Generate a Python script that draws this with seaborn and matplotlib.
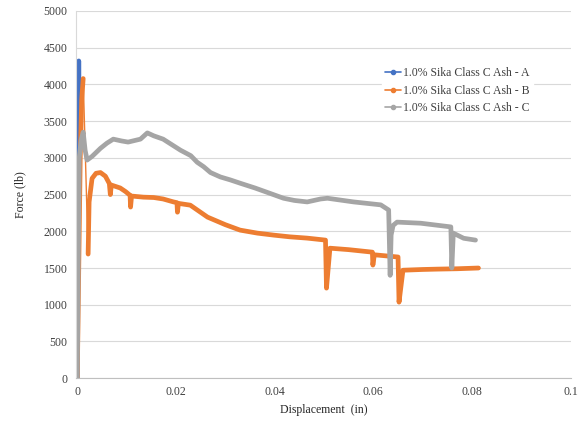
import matplotlib
matplotlib.use("Agg")
import matplotlib.pyplot as plt
from matplotlib.lines import Line2D
import numpy as np
import pandas as pd
import seaborn as sns

# Load-displacement readings for three specimens
disp_a = [0.0, 0.0001, 0.0002, 0.0003, 0.0004]
force_a = [0, 1600, 3300, 4320, 3400]

disp_b = [0.0, 0.0003, 0.0006, 0.0009, 0.0012,
          0.0022, 0.0024, 0.0030, 0.0038, 0.0047, 0.0057, 0.0065, 0.0067, 0.0069,
          0.0078, 0.0087, 0.0098, 0.0107, 0.0108, 0.0110, 0.0134, 0.0155, 0.0174,
          0.0195, 0.0202, 0.0203, 0.0205, 0.0229, 0.0264, 0.0300, 0.0330, 0.0365,
          0.0398, 0.0430, 0.0466, 0.0503, 0.0505, 0.0512, 0.0550, 0.0598, 0.0599,
          0.0602, 0.0650, 0.0652, 0.0660, 0.0700, 0.0730, 0.0770, 0.0813]
force_b = [0, 1500, 3000, 3800, 4080,
           1690, 2400, 2720, 2790, 2800, 2750, 2650, 2500, 2630,
           2610, 2590, 2540, 2490, 2330, 2480, 2465, 2460, 2440,
           2400, 2390, 2260, 2380, 2356, 2193, 2090, 2016, 1975,
           1948, 1925, 1907, 1880, 1226, 1770, 1750, 1716, 1540,
           1680, 1650, 1035, 1470, 1480, 1485, 1490, 1500]
# index where the sparse drop after the first peak ends
b_break = 5

disp_c = [0.0, 0.0002, 0.0004, 0.0008, 0.0012, 0.0016, 0.0020, 0.0030, 0.0047,
          0.0060, 0.0073, 0.0090, 0.0103, 0.0128, 0.0142, 0.0155, 0.0174, 0.0209,
          0.0230, 0.0243, 0.0256, 0.0270, 0.0290, 0.0310, 0.0330, 0.0360, 0.0385,
          0.0418, 0.0440, 0.0466, 0.0493, 0.0507, 0.0560, 0.0615, 0.0631, 0.0634,
          0.0636, 0.0640, 0.0648, 0.0696, 0.0757, 0.0759, 0.0762, 0.0783, 0.0807]
force_c = [0, 1500, 3000, 3250, 3350, 3100, 2970, 3020, 3130,
           3200, 3255, 3230, 3215, 3255, 3340, 3300, 3255, 3105,
           3030, 2940, 2880, 2800, 2740, 2700, 2655, 2590, 2530,
           2450, 2420, 2400, 2440, 2450, 2400, 2360, 2290, 1400,
           1950, 2080, 2125, 2110, 2060, 1500, 1975, 1905, 1880]

labels = ["1.0% Sika Class C Ash - A", "1.0% Sika Class C Ash - B",
          "1.0% Sika Class C Ash - C"]
colors = ["#4472C4", "#ED7D31", "#A5A5A5"]

x_ticks = [0, 0.02, 0.04, 0.06, 0.08, 0.1]
x_ticklabels = ["0", "0.02", "0.04", "0.06", "0.08", "0.1"]
y_ticks = list(range(0, 5001, 500))


def frame(disp, force, breaks=()):
    seg = np.zeros(len(disp), dtype=int)
    for b in breaks:
        seg[b:] += 1
    return pd.DataFrame({"disp": disp, "force": force, "seg": seg})


series = [
    frame(disp_a, force_a),
    frame(disp_b, force_b, breaks=(b_break,)),
    frame(disp_c, force_c),
]

sns.set_theme(style="whitegrid")
plt.rcParams["font.family"] = ["Liberation Serif", "DejaVu Serif"]

fig = plt.figure(figsize=(5.83, 4.23), dpi=100)
ax = fig.add_axes([0.130, 0.106, 0.849, 0.868])

for df, color in zip(series, colors):
    # connecting line through every reading
    sns.lineplot(data=df, x="disp", y="force", sort=False, estimator=None,
                 color=color, lw=1.0, ax=ax, legend=False)
    # dense marker band for continuous stretches
    sns.lineplot(data=df, x="disp", y="force", units="seg", sort=False,
                 estimator=None, color=color, lw=3.4, ax=ax, legend=False,
                 solid_joinstyle="round", solid_capstyle="round")

ax.set_xlim(-0.0003, 0.1)
ax.set_ylim(0, 5000)
ax.set_xticks(x_ticks)
ax.set_xticklabels(x_ticklabels)
ax.set_yticks(y_ticks)
ax.set_yticklabels([str(v) for v in y_ticks])
ax.tick_params(axis="both", length=0, labelsize=8.5, colors="#404040", pad=6)
ax.grid(axis="y", color="#d9d9d9", lw=0.8)
ax.grid(axis="x", visible=False)
for side in ("top", "right"):
    ax.spines[side].set_visible(False)
ax.spines["left"].set_color("#d9d9d9")
ax.spines["left"].set_linewidth(0.8)
ax.spines["bottom"].set_color("#bfbfbf")
ax.spines["bottom"].set_linewidth(0.8)

ax.set_xlabel("Displacement  (in)", fontsize=8.5, color="#262626", labelpad=4)
ax.set_ylabel("Force (lb)", fontsize=8.5, color="#262626", labelpad=12)

handles = [Line2D([], [], color=c, lw=1.2, marker="o", markersize=3)
           for c in colors]
leg = ax.legend(handles, labels, loc="upper left",
                bbox_to_anchor=(376 / 583, 1 - 58 / 423),
                bbox_transform=fig.transFigure, frameon=True, fontsize=8.5,
                handlelength=1.3, handletextpad=0.15, labelspacing=0.45,
                borderpad=0.3)
leg.get_frame().set_edgecolor("white")
leg.get_frame().set_facecolor("white")
leg.get_frame().set_alpha(1)
for t in leg.get_texts():
    t.set_color("#404040")

fig.savefig("out.png", dpi=100, facecolor="white")
